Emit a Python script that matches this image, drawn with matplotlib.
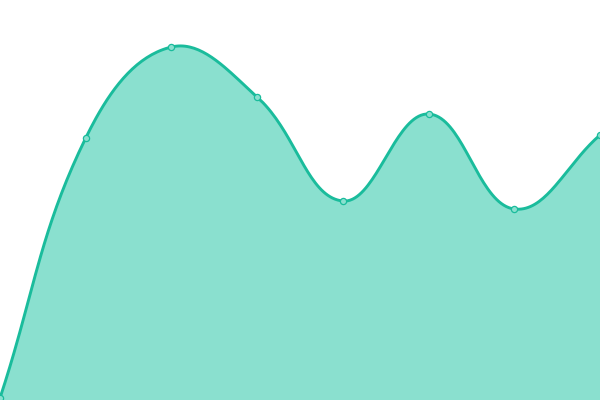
import numpy as np
import matplotlib
matplotlib.use("Agg")
import matplotlib.pyplot as plt

labels = ["1", "2", "3", "4", "5", "6", "7", "8"]
values = [2, 262, 353, 303, 199, 286, 191, 265]

line_color = "#1abc9c"
fill_color = "#8ae0cf"

W, H = 600, 400
fig = plt.figure(figsize=(W / 100, H / 100), dpi=100)
ax = fig.add_axes([0, 0, 1, 1])
ax.set_xlim(0, W)
ax.set_ylim(0, H)
ax.axis("off")

# points in pixel space
n = len(values)
px = np.array([i * W / (n - 1) for i in range(n)])
py = np.array(values, dtype=float)


# chart.js style bezier spline, tension 0.4
def spline(xs, ys, t=0.4, steps=40):
    out_x, out_y = [], []
    cps = []
    for i in range(len(xs)):
        p = np.array([xs[i], ys[i]])
        prev = np.array([xs[max(i - 1, 0)], ys[max(i - 1, 0)]])
        nxt = np.array([xs[min(i + 1, len(xs) - 1)], ys[min(i + 1, len(xs) - 1)]])
        d01 = np.hypot(*(p - prev))
        d12 = np.hypot(*(nxt - p))
        tot = d01 + d12
        s01 = d01 / tot if tot else 0
        s12 = d12 / tot if tot else 0
        cps.append((p - t * s01 * (nxt - prev), p + t * s12 * (nxt - prev)))
    u = np.linspace(0, 1, steps)
    for i in range(len(xs) - 1):
        p0 = np.array([xs[i], ys[i]])
        p3 = np.array([xs[i + 1], ys[i + 1]])
        c1 = cps[i][1]
        c2 = cps[i + 1][0]
        bx = (1 - u) ** 3 * p0[0] + 3 * (1 - u) ** 2 * u * c1[0] + 3 * (1 - u) * u ** 2 * c2[0] + u ** 3 * p3[0]
        by = (1 - u) ** 3 * p0[1] + 3 * (1 - u) ** 2 * u * c1[1] + 3 * (1 - u) * u ** 2 * c2[1] + u ** 3 * p3[1]
        out_x.extend(bx)
        out_y.extend(by)
    return np.array(out_x), np.array(out_y)


sx, sy = spline(px, py)
ax.fill_between(sx, sy, 0, color=fill_color, lw=0)
ax.plot(sx, sy, color=line_color, lw=2.1, solid_capstyle="round", clip_on=False)
ax.scatter(px, py, s=20, facecolor=fill_color, edgecolor=line_color, lw=0.9, zorder=3)

fig.savefig("out.png", dpi=100)
